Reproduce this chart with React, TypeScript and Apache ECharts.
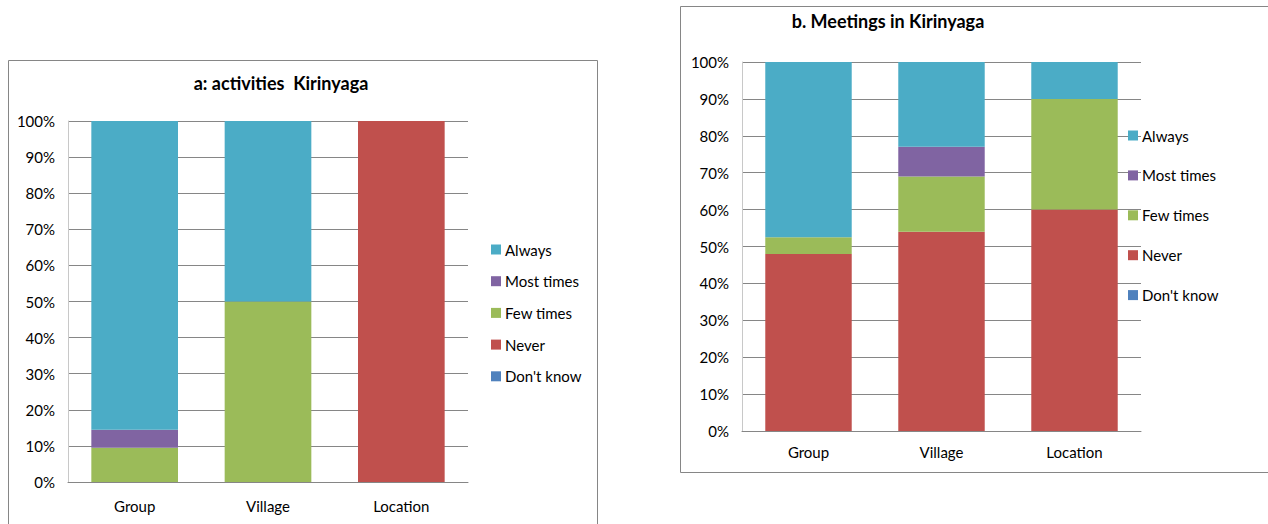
import React, { useEffect, useRef } from "react";
import * as echarts from "echarts";

// Response categories, drawn bottom-to-top in each stacked column
const seriesNames = ["Don't know", "Never", "Few times", "Most times", "Always"];
const seriesColors = ["#4F81BD", "#C0504D", "#9BBB59", "#8064A2", "#4BACC6"];
const legendOrder = ["Always", "Most times", "Few times", "Never", "Don't know"];

const categories = ["Group", "Village", "Location"];
const yTicks = [0, 10, 20, 30, 40, 50, 60, 70, 80, 90, 100];

// a: activities (percent of respondents)
const activitiesDontKnow = [0, 0, 0];
const activitiesNever = [0, 0, 100];
const activitiesFewTimes = [9.5, 50, 0];
const activitiesMostTimes = [5, 0, 0];
const activitiesAlways = [85.5, 50, 0];

// b. Meetings (percent of respondents)
const meetingsDontKnow = [0, 0, 0];
const meetingsNever = [48, 54, 60];
const meetingsFewTimes = [4.5, 15, 30];
const meetingsMostTimes = [0, 8, 0];
const meetingsAlways = [47.5, 23, 10];

const FONT = "Lato, 'Liberation Sans', sans-serif";

export default function App() {
  const ref = useRef<HTMLDivElement>(null);

  useEffect(() => {
    if (!ref.current) return;
    const chart = echarts.init(ref.current, undefined, { renderer: "svg" });

    const activities = [activitiesDontKnow, activitiesNever, activitiesFewTimes, activitiesMostTimes, activitiesAlways];
    const meetings = [meetingsDontKnow, meetingsNever, meetingsFewTimes, meetingsMostTimes, meetingsAlways];

    const makeXAxis = (gridIndex: number, margin: number) => ({
      type: "category",
      gridIndex,
      data: categories,
      axisTick: { show: false },
      axisLine: { lineStyle: { color: "#868686", width: 1 } },
      axisLabel: { color: "#000", fontFamily: FONT, fontSize: 15, margin },
    });
    const makeYAxis = (gridIndex: number) => ({
      type: "value",
      gridIndex,
      min: yTicks[0],
      max: yTicks[yTicks.length - 1],
      interval: yTicks[1] - yTicks[0],
      axisLine: { show: true, lineStyle: { color: "#c8c8c8", width: 1 } },
      axisTick: { show: false },
      splitLine: { lineStyle: { color: "#868686", width: 1 } },
      axisLabel: { color: "#000", fontFamily: FONT, fontSize: 15, margin: 13, formatter: "{value}%" },
    });

    const makeSeries = (values: number[][], idx: number, stack: string) =>
      values.map((data, i) => ({
        name: seriesNames[i],
        type: "bar",
        stack,
        xAxisIndex: idx,
        yAxisIndex: idx,
        barWidth: "65%",
        itemStyle: { color: seriesColors[i] },
        data,
      }));

    const legendBase = {
      orient: "vertical",
      icon: "rect",
      itemWidth: 10,
      itemHeight: 10,
      padding: 0,
      data: legendOrder,
      selectedMode: false,
      textStyle: { color: "#000", fontFamily: FONT, fontSize: 15, lineHeight: 14, padding: [0, 0, 0, -1] },
    };

    chart.setOption({
      animation: false,
      color: seriesColors,
      grid: [
        { left: 68, top: 121, width: 400, height: 361 },
        { left: 742, top: 62, width: 399, height: 369 },
      ],
      xAxis: [makeXAxis(0, 16), makeXAxis(1, 13)],
      yAxis: [makeYAxis(0), makeYAxis(1)],
      legend: [
        { ...legendBase, left: 491, top: 242, itemGap: 16.7 },
        { ...legendBase, left: 1128, top: 128, itemGap: 24.9 },
      ],
      graphic: [
        {
          type: "rect",
          shape: { x: 8.5, y: 60.5, width: 589, height: 470 },
          style: { fill: "none", stroke: "#868686", lineWidth: 1 },
          silent: true,
        },
        {
          type: "rect",
          shape: { x: 680.5, y: 6.5, width: 600, height: 466 },
          style: { fill: "none", stroke: "#868686", lineWidth: 1 },
          silent: true,
        },
        {
          type: "text",
          x: 281,
          y: 83,
          style: {
            text: "a: activities  Kirinyaga",
            fill: "#000",
            font: `bold 18px ${FONT}`,
            textAlign: "center",
            textVerticalAlign: "middle",
          },
        },
        {
          type: "text",
          x: 888,
          y: 21,
          style: {
            text: "b. Meetings in Kirinyaga",
            fill: "#000",
            font: `bold 18px ${FONT}`,
            textAlign: "center",
            textVerticalAlign: "middle",
          },
        },
      ],
      series: [...makeSeries(activities, 0, "activities"), ...makeSeries(meetings, 1, "meetings")],
    });

    return () => chart.dispose();
  }, []);

  return (
    <div
      ref={ref}
      style={{ position: "absolute", left: 0, top: 0, width: 1268, height: 524, background: "#fff" }}
    />
  );
}
